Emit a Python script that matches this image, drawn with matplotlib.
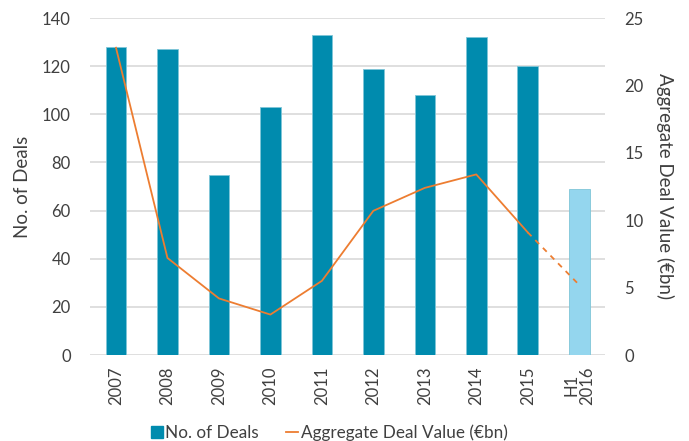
import numpy as np
import matplotlib
matplotlib.use("Agg")
import matplotlib.pyplot as plt
from matplotlib.lines import Line2D

# data
years = ["2007", "2008", "2009", "2010", "2011", "2012", "2013", "2014", "2015", "H1\n2016"]
deals = [128, 127, 75, 103, 133, 119, 108, 132, 120, 69]
deal_value = [22.8, 7.2, 4.2, 3.0, 5.5, 10.7, 12.4, 13.4, 9.1, 5.2]

bar_color = "#008BAE"
partial_color = "#94D6EE"
line_color = "#ED7D31"
text_color = "#404040"
grid_color = "#D9D9D9"

plt.rcParams["font.family"] = ["Lato", "DejaVu Sans"]
plt.rcParams["font.size"] = 11.5

fig, ax = plt.subplots(figsize=(6.89, 4.41), dpi=100)
fig.subplots_adjust(left=0.131, right=0.878, top=0.959, bottom=0.195)

x = np.arange(len(years))
colors = [bar_color] * (len(years) - 1) + [partial_color]
ax.bar(x, deals, width=0.4, color=colors, edgecolor="#7FC6D8", linewidth=0.6, zorder=3)

ax.set_xlim(-0.5, len(years) - 0.5)
ax.set_ylim(0, 140)
ax.set_yticks(range(0, 141, 20))
ax.yaxis.grid(True, color=grid_color, linewidth=1.2, zorder=0)
ax.set_axisbelow(True)
for s in ax.spines.values():
    s.set_visible(False)
ax.tick_params(length=0, colors=text_color, labelsize=12)
ax.tick_params(axis="y", pad=14)
ax.tick_params(axis="x", pad=8)
ax.set_xticks(x)
ax.set_xticklabels(years, rotation=90, linespacing=0.95)
ax.set_ylabel("No. of Deals", color=text_color, fontsize=13.5, labelpad=8)

ax2 = ax.twinx()
ax2.set_ylim(0, 25)
ax2.set_yticks(range(0, 26, 5))
for s in ax2.spines.values():
    s.set_visible(False)
ax2.tick_params(length=0, colors=text_color, labelsize=12, pad=14)
ax2.plot(x[:-1], deal_value[:-1], color=line_color, linewidth=1.3, zorder=4)
ax2.plot(x[-2:], deal_value[-2:], color=line_color, linewidth=1.3, linestyle=(0, (3, 3)), zorder=4)
ax2.set_ylabel("Aggregate Deal Value (€bn)", color=text_color, fontsize=13.5,
               rotation=270, labelpad=22)

handles = [
    Line2D([0], [0], marker="s", color="none", markerfacecolor=bar_color,
           markeredgecolor=bar_color, markersize=9),
    Line2D([0], [0], color=line_color, linewidth=1.3),
]
leg = fig.legend(handles, ["No. of Deals", "Aggregate Deal Value (€bn)"],
                 loc="lower center", bbox_to_anchor=(0.478, -0.035), ncol=2, frameon=False,
                 handlelength=0.7, handletextpad=0.15, columnspacing=1.6, fontsize=12.3)
for t in leg.get_texts():
    t.set_color(text_color)

fig.savefig("out.png", dpi=100)
